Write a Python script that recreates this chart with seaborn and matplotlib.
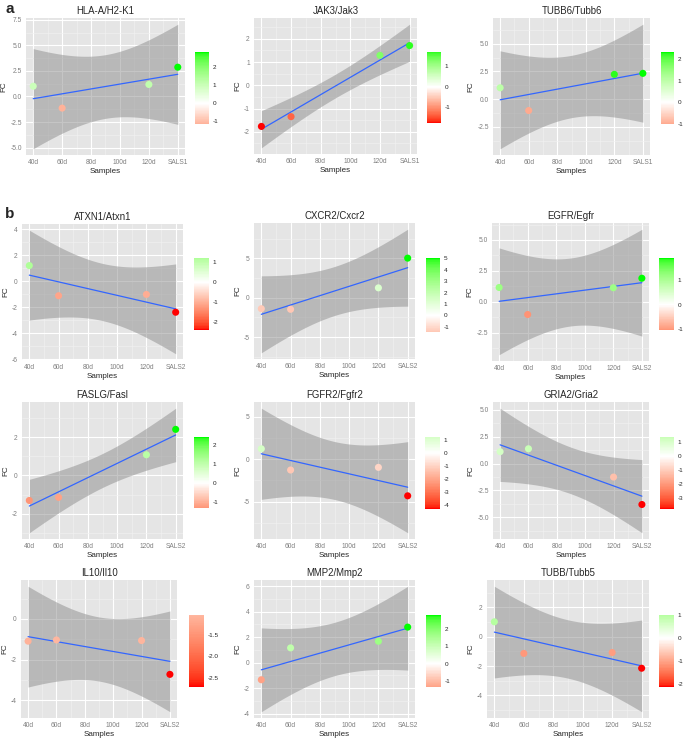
import numpy as np
import pandas as pd
import matplotlib
matplotlib.use("Agg")
import matplotlib.pyplot as plt
from matplotlib.colors import ListedColormap, Normalize
from matplotlib.cm import ScalarMappable
import seaborn as sns

sns.set_style("darkgrid", {"axes.facecolor": "#E5E5E5", "grid.color": "white"})
plt.rcParams['font.family'] = ['Liberation Sans', 'DejaVu Sans']

# x positions of the samples and the axis labels
days = [40, 60, 120, 140]
x_breaks = [40, 60, 80, 100, 120, 140]
x_labels_a = ['40d', '60d', '80d', '100d', '120d', 'SALS1']
x_labels_b = ['40d', '60d', '80d', '100d', '120d', 'SALS2']

genes = ['HLA-A/H2-K1', 'JAK3/Jak3', 'TUBB6/Tubb6',
         'ATXN1/Atxn1', 'CXCR2/Cxcr2', 'EGFR/Egfr',
         'FASLG/Fasl', 'FGFR2/Fgfr2', 'GRIA2/Gria2',
         'IL10/Il10', 'MMP2/Mmp2', 'TUBB/Tubb5']

# FC at 40d, 60d, 120d, SALS
fc_hla = [1.00, -1.14, 1.17, 2.86]
fc_jak3 = [-1.77, -1.35, 1.29, 1.71]
fc_tubb6 = [1.03, -1.02, 2.24, 2.33]
fc_atxn1 = [1.21, -1.11, -1.01, -2.38]
fc_cxcr2 = [-1.39, -1.47, 1.26, 5.04]
fc_egfr = [1.15, -1.04, 1.13, 1.90]
fc_faslg = [-1.31, -1.15, 1.08, 2.41]
fc_fgfr2 = [1.23, -1.27, -0.96, -4.31]
fc_gria2 = [1.11, 1.38, -1.26, -3.82]
fc_il10 = [-1.09, -1.03, -1.06, -2.72]
fc_mmp2 = [-1.34, 1.16, 1.68, 2.79]
fc_tubb = [1.02, -1.14, -1.08, -2.15]

fc_all = [fc_hla, fc_jak3, fc_tubb6, fc_atxn1, fc_cxcr2, fc_egfr,
          fc_faslg, fc_fgfr2, fc_gria2, fc_il10, fc_mmp2, fc_tubb]

y_ticks = [[-5, -2.5, 0, 2.5, 5, 7.5], [-2, -1, 0, 1, 2], [-2.5, 0, 2.5, 5],
           [-6, -4, -2, 0, 2, 4], [-5, 0, 5], [-2.5, 0, 2.5, 5],
           [-2, 0, 2], [-5, 0, 5], [-5, -2.5, 0, 2.5, 5],
           [-4, -2, 0], [-4, -2, 0, 2, 4, 6], [-4, -2, 0, 2]]

cb_ticks = [[-1, 0, 1, 2], [-1, 0, 1], [-1, 0, 1, 2],
            [-2, -1, 0, 1], [-1, 0, 1, 2, 3, 4, 5], [-1, 0, 1],
            [-1, 0, 1, 2], [-4, -3, -2, -1, 0, 1], [-3, -2, -1, 0, 1],
            [-2.5, -2.0, -1.5], [-1, 0, 1, 2], [-2, -1, 0, 1]]

# pixel boxes (left, top, right, bottom) of panels and colourbars
panel_px = [(26, 18, 185, 155), (254, 18, 417, 154), (493, 18, 650, 155),
            (22, 224, 183, 360), (254, 223, 415, 359), (492, 223, 649, 361),
            (22, 402, 183, 539), (254, 402, 415, 539), (493, 402, 649, 539),
            (21, 580, 177, 718), (254, 580, 415, 718), (487, 580, 649, 718)]
cbar_px = [(195, 52, 209, 124), (427, 52, 441, 123), (661, 52, 674, 124),
           (194, 258, 209, 330), (426, 258, 440, 332), (659, 258, 674, 330),
           (194, 437, 209, 508), (425, 437, 440, 509), (660, 437, 674, 509),
           (189, 615, 204, 687), (426, 615, 441, 687), (659, 615, 674, 687)]

W, H = 685, 738
T_975_DF2 = 4.302653


def to_lab(hexc):
    rgb = np.array([int(hexc[i:i + 2], 16) for i in (1, 3, 5)]) / 255.0
    lin = np.where(rgb <= 0.04045, rgb / 12.92, ((rgb + 0.055) / 1.055) ** 2.4)
    M = np.array([[0.4124, 0.3576, 0.1805], [0.2126, 0.7152, 0.0722], [0.0193, 0.1192, 0.9505]])
    xyz = M @ lin / np.array([0.95047, 1.0, 1.08883])
    f = np.where(xyz > (6 / 29) ** 3, np.cbrt(xyz), xyz / (3 * (6 / 29) ** 2) + 4 / 29)
    return np.array([116 * f[1] - 16, 500 * (f[0] - f[1]), 200 * (f[1] - f[2])])


def from_lab(lab):
    fy = (lab[..., 0] + 16) / 116
    f = np.stack([fy + lab[..., 1] / 500, fy, fy - lab[..., 2] / 200], axis=-1)
    xyz = np.where(f > 6 / 29, f ** 3, 3 * (6 / 29) ** 2 * (f - 4 / 29)) * np.array([0.95047, 1.0, 1.08883])
    Mi = np.array([[3.2406, -1.5372, -0.4986], [-0.9689, 1.8758, 0.0415], [0.0557, -0.2040, 1.0570]])
    lin = np.clip(xyz @ Mi.T, 0, 1)
    return np.where(lin <= 0.0031308, 12.92 * lin, 1.055 * lin ** (1 / 2.4) - 0.055)


# red - white - green, interpolated in Lab like ggplot's gradient2
t = np.linspace(0, 1, 128)[:, None]
lo_half = from_lab(to_lab('#FF0000') * (1 - t) + to_lab('#FFFFFF') * t)
hi_half = from_lab(to_lab('#FFFFFF') * (1 - t) + to_lab('#00FF00') * t)
cmap = ListedColormap(np.vstack([lo_half, hi_half]))


def fmt(vals):
    if any(v != int(v) for v in vals):
        return [f'{v:.1f}' for v in vals]
    return [f'{v:g}' for v in vals]


fig = plt.figure(figsize=(W / 100, H / 100), dpi=100)

for i, gene in enumerate(genes):
    fc = np.array(fc_all[i])
    x = np.array(days, dtype=float)
    df = pd.DataFrame({'day': x, 'fc': fc})

    # lm fit with 95% confidence band
    slope, intercept = np.polyfit(x, fc, 1)
    resid = fc - (slope * x + intercept)
    s = np.sqrt(np.sum(resid ** 2) / (len(x) - 2))
    grid = np.linspace(40, 140, 101)
    fit = slope * grid + intercept
    se = s * np.sqrt(1 / len(x) + (grid - x.mean()) ** 2 / np.sum((x - x.mean()) ** 2))
    band_lo, band_hi = fit - T_975_DF2 * se, fit + T_975_DF2 * se

    l, tp, r, b = panel_px[i]
    ax = fig.add_axes([l / W, 1 - b / H, (r - l) / W, (b - tp) / H])
    ax.fill_between(grid, band_lo, band_hi, color='#8C8C8C', alpha=0.5, lw=0, zorder=1)
    sns.lineplot(x=grid, y=fit, color='#3366FF', lw=0.9, ax=ax, zorder=2)

    m = np.max(np.abs(fc))
    norm = Normalize(vmin=-m, vmax=m)
    sns.scatterplot(data=df, x='day', y='fc', hue='fc', palette=cmap, hue_norm=norm,
                    s=26, edgecolor='none', legend=False, ax=ax, zorder=3)

    ymin = min(band_lo.min(), fc.min())
    ymax = max(band_hi.max(), fc.max())
    pad = 0.05 * (ymax - ymin)
    ylim = (ymin - pad, ymax + pad)

    yt = y_ticks[i]
    step = yt[1] - yt[0]
    ax.set_yticks(yt)
    ax.set_yticklabels(fmt(yt))
    minor_y = [v for v in np.arange(yt[0] - step / 2, yt[-1] + step, step) if ylim[0] < v < ylim[1]]
    ax.set_yticks(minor_y, minor=True)
    ax.set_xticks(x_breaks)
    ax.set_xticklabels(x_labels_a if i < 3 else x_labels_b)
    ax.set_xticks([50, 70, 90, 110, 130], minor=True)
    ax.set_xlim(35, 145)
    ax.set_ylim(*ylim)

    ax.grid(which='major', color='white', lw=0.8)
    ax.grid(which='minor', color='#F2F2F2', lw=0.4)
    ax.tick_params(which='major', length=2, width=0.5, color='#7F7F7F',
                   labelcolor='#7F7F7F', labelsize=4.8, pad=1)
    ax.tick_params(which='minor', length=0)
    for sp in ax.spines.values():
        sp.set_visible(False)
    ax.set_title(gene, fontsize=6.9, pad=3)
    ax.set_xlabel('Samples', fontsize=5.8, labelpad=1.5)
    ax.set_ylabel('FC', fontsize=5.8, labelpad=2)

    # colour bar covering the data range only
    cl, ct, cr, cbm = cbar_px[i]
    cax = fig.add_axes([cl / W, 1 - cbm / H, (cr - cl) / W, (cbm - ct) / H])
    sm = ScalarMappable(norm=norm, cmap=cmap)
    cb = fig.colorbar(sm, cax=cax, boundaries=np.linspace(fc.min(), fc.max(), 121))
    cb.outline.set_visible(False)
    cb.set_ticks(cb_ticks[i])
    cb.set_ticklabels(fmt(cb_ticks[i]))
    cb.ax.tick_params(length=0, labelsize=4.6, pad=2.5)

fig.text(5 / W, 1 - 9 / H, 'a', fontsize=11, fontweight='bold', va='center')
fig.text(5 / W, 1 - 214 / H, 'b', fontsize=11, fontweight='bold', va='center')

fig.savefig('out.png', dpi=100)
